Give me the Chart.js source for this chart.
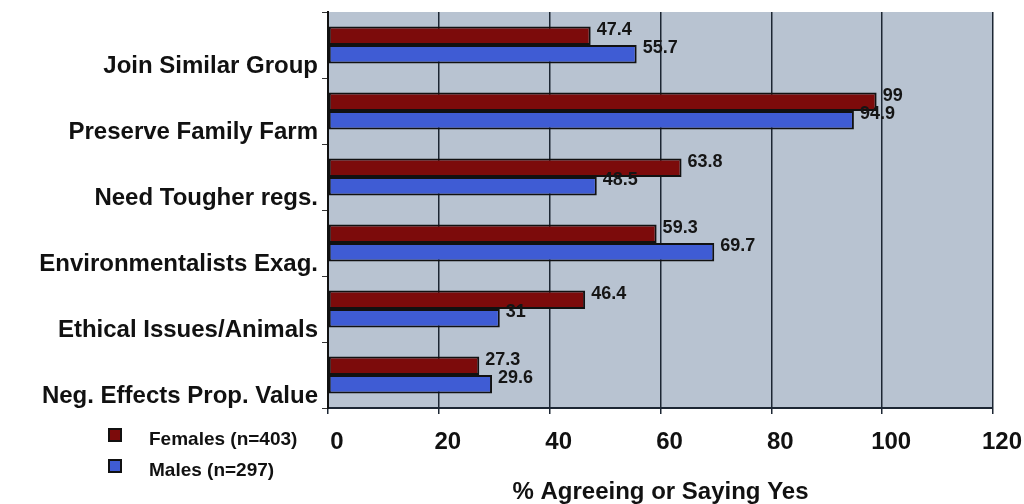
<!DOCTYPE html>
<html>
<head>
<meta charset="utf-8">
<script src="https://cdn.jsdelivr.net/npm/chart.js@4.4.1/dist/chart.umd.min.js"></script>
<style>
  html, body { margin: 0; padding: 0; background: #ffffff; }
  #wrap { position: relative; width: 1024px; height: 504px; }
</style>
</head>
<body>
<div id="wrap"><canvas id="chart"></canvas></div>
<script>
const categories = [
  "Join Similar Group",
  "Preserve Family Farm",
  "Need Tougher regs.",
  "Environmentalists Exag.",
  "Ethical Issues/Animals",
  "Neg. Effects Prop. Value"
];
const femaleValues = [47.4, 99, 63.8, 59.3, 46.4, 27.3];
const maleValues = [55.7, 94.9, 48.5, 69.7, 31, 29.6];
const xTicks = [0, 20, 40, 60, 80, 100, 120];
const seriesNames = ["Females (n=403)", "Males (n=297)"];

const FONT = "'Liberation Sans', Arial, sans-serif";

// grey plot background
const plotBackground = {
  id: "plotBackground",
  beforeDraw(chart) {
    const { ctx, chartArea: a } = chart;
    ctx.save();
    ctx.fillStyle = "#b8c3d1";
    ctx.fillRect(a.left, a.top, a.right - a.left, a.bottom - a.top);
    ctx.restore();
  }
};

// value labels at the bar ends
const valueLabels = {
  id: "valueLabels",
  afterDatasetsDraw(chart) {
    const { ctx } = chart;
    ctx.save();
    ctx.font = "bold 18px " + FONT;
    ctx.fillStyle = "#151515";
    ctx.textAlign = "left";
    ctx.textBaseline = "middle";
    chart.data.datasets.forEach((ds, i) => {
      chart.getDatasetMeta(i).data.forEach((el, j) => {
        ctx.fillText(String(ds.data[j]), el.x + 6, el.y - 6);
      });
    });
    ctx.restore();
  }
};

// legend stacked under the category labels
const sideLegend = {
  id: "sideLegend",
  afterDraw(chart) {
    const { ctx } = chart;
    ctx.save();
    ctx.font = "bold 19px " + FONT;
    ctx.textBaseline = "middle";
    ctx.textAlign = "left";
    chart.data.datasets.forEach((ds, i) => {
      const y = 435 + i * 31;
      ctx.fillStyle = ds.backgroundColor;
      ctx.fillRect(109, y - 6, 12, 12);
      ctx.strokeStyle = "#111";
      ctx.lineWidth = 2;
      ctx.strokeRect(109, y - 6, 12, 12);
      ctx.fillStyle = "#111";
      ctx.fillText(ds.label, 149, y + 5);
    });
    ctx.restore();
  }
};

new Chart(document.getElementById("chart"), {
  type: "bar",
  data: {
    labels: categories,
    datasets: [
      {
        label: seriesNames[0],
        data: femaleValues,
        backgroundColor: "#7c0b0b",
        borderColor: "#111111",
        borderWidth: 2,
        borderSkipped: false
      },
      {
        label: seriesNames[1],
        data: maleValues,
        backgroundColor: "#3f5cd4",
        borderColor: "#111111",
        borderWidth: 2,
        borderSkipped: false
      }
    ]
  },
  options: {
    indexAxis: "y",
    responsive: true,
    maintainAspectRatio: false,
    animation: false,
    categoryPercentage: 0.56,
    barPercentage: 1,
    layout: { padding: { top: 12, right: 31, bottom: 0, left: 0 } },
    plugins: {
      legend: { display: false },
      tooltip: { enabled: false }
    },
    scales: {
      x: {
        min: 0,
        max: 120,
        afterBuildTicks(scale) {
          scale.ticks = xTicks.map(v => ({ value: v }));
        },
        afterFit(scale) {
          scale.height = 96;
          scale.paddingRight = 0;
          scale.paddingLeft = 0;
        },
        grid: { color: "#1c2633", lineWidth: 1.5, tickLength: 6 },
        border: { color: "#1c2633", width: 2 },
        ticks: {
          color: "#111",
          font: { family: FONT, size: 24, weight: "bold" },
          padding: 14,
          labelOffset: 9,
          maxRotation: 0
        },
        title: {
          display: true,
          text: "% Agreeing or Saying Yes",
          color: "#111",
          font: { family: FONT, size: 24, weight: "bold", lineHeight: 1 },
          padding: { top: 10, bottom: 0 }
        }
      },
      y: {
        afterFit(scale) {
          scale.width = 328;
          scale.paddingTop = 0;
          scale.paddingBottom = 0;
        },
        grid: { drawOnChartArea: false, color: "#333", tickLength: 6 },
        border: { color: "#111", width: 2 },
        ticks: {
          color: "#111",
          font: { family: FONT, size: 24, weight: "bold" },
          padding: 4,
          labelOffset: 21
        }
      }
    }
  },
  plugins: [plotBackground, valueLabels, sideLegend]
});
</script>
</body>
</html>
